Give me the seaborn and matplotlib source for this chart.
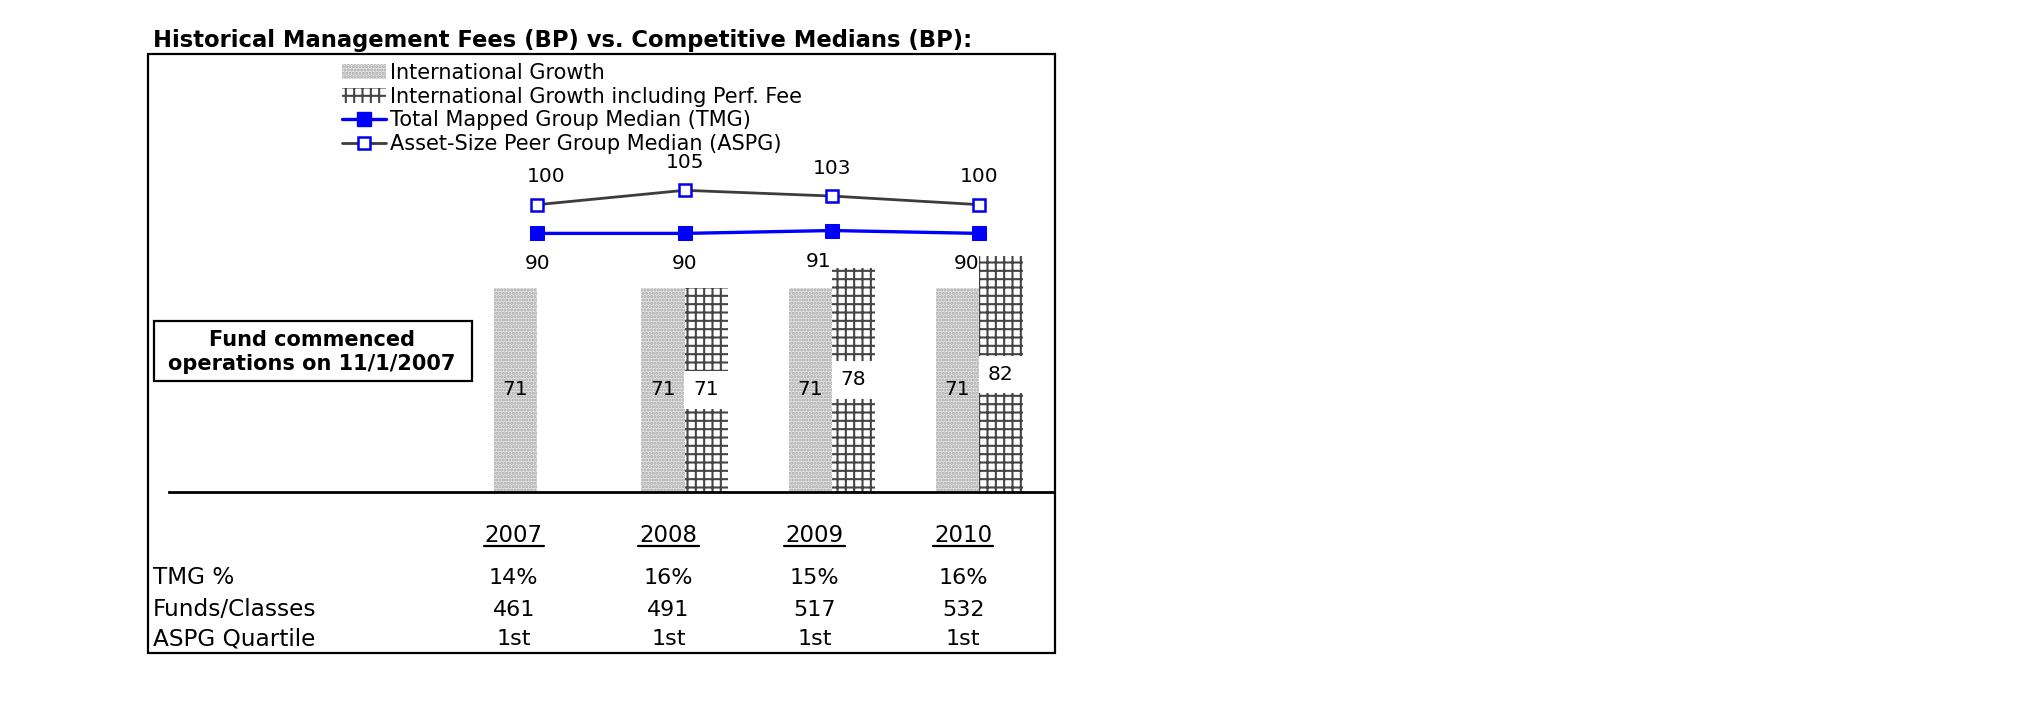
import numpy as np
import pandas as pd
import matplotlib
matplotlib.use('Agg')
import matplotlib.pyplot as plt
from matplotlib.patches import Rectangle, Patch
from matplotlib.lines import Line2D
import seaborn as sns

# Chart data
years = ['2007', '2008', '2009', '2010']
intl_growth = [71, 71, 71, 71]
intl_growth_perf = [np.nan, 71, 78, 82]
tmg_median = [90, 90, 91, 90]
aspg_median = [100, 105, 103, 100]

# Table under the chart
tmg_pct = ['14%', '16%', '15%', '16%']
funds_classes = ['461', '491', '517', '532']
aspg_quartile = ['1st', '1st', '1st', '1st']

series_names = ['International Growth', 'International Growth including Perf. Fee']

df = pd.DataFrame({
    'Year': years * 2,
    'Series': [series_names[0]] * 4 + [series_names[1]] * 4,
    'BP': intl_growth + intl_growth_perf,
}).dropna()

sns.set_style('white')
plt.rcParams['font.family'] = ['DejaVu Sans']
plt.rcParams['text.color'] = 'black'
plt.rcParams['hatch.linewidth'] = 1.5

W, H = 2025, 717
fig = plt.figure(figsize=(W / 100, H / 100), dpi=100)


def fx(px):
    return px / W


def fy(py):
    return 1 - py / H


# main axes: baseline at y=492px, 150 BP tall
ax = fig.add_axes([fx(169), fy(492), (1053 - 169) / W, 431 / H])

sns.barplot(data=df, x='Year', y='BP', hue='Series', order=years,
            hue_order=series_names, width=0.588, errorbar=None,
            legend=False, ax=ax)

ig_face, ig_hatch = '#e6e6e6', '#a6a6a6'
pf_face, pf_hatch = 'white', '#444444'

for bar in ax.containers[0]:
    bar.set_facecolor(ig_face)
    bar.set_edgecolor(ig_hatch)
    bar.set_hatch('.....')
    bar.set_linewidth(0)
for bar in ax.containers[1]:
    bar.set_facecolor(pf_face)
    bar.set_edgecolor(pf_hatch)
    bar.set_hatch('++')
    bar.set_linewidth(0)

lab_fs = 14.5
ax.bar_label(ax.containers[0], label_type='center', fontsize=lab_fs)
ax.bar_label(ax.containers[1], label_type='center', fontsize=lab_fs,
             bbox=dict(boxstyle='square,pad=0.45', facecolor='white', edgecolor='white', lw=0))

pos = np.arange(len(years))
sns.lineplot(x=pos, y=aspg_median, color='#3c3c3c', linewidth=2.0, marker='s',
             markersize=9, markerfacecolor='white', markeredgecolor='#0000ee',
             markeredgewidth=1.8, sort=False, ax=ax, zorder=4)
sns.lineplot(x=pos, y=tmg_median, color='#0000ff', linewidth=2.4, marker='s',
             markersize=9.5, markerfacecolor='#0000ff', markeredgecolor='#0000ff',
             sort=False, ax=ax, zorder=4)

aspg_nudge = [6, 0, 0, 0]
tmg_nudge = [0, 0, -10, -9.5]
for i, v in enumerate(aspg_median):
    ax.annotate(str(v), (pos[i], v), xytext=(aspg_nudge[i], 20), textcoords='offset points',
                ha='center', va='center', fontsize=lab_fs)
for i, v in enumerate(tmg_median):
    ax.annotate(str(v), (pos[i], v), xytext=(tmg_nudge[i], -22), textcoords='offset points',
                ha='center', va='center', fontsize=lab_fs)

ax.set_xlim(-2.5, 3.5)
ax.set_ylim(0, 150)
ax.set_xticks([])
ax.set_yticks([])
ax.set_xlabel('')
ax.set_ylabel('')
sns.despine(ax=ax, left=True)
ax.spines['bottom'].set_linewidth(2)
ax.spines['bottom'].set_color('black')
ax.patch.set_alpha(0)

# legend
handles = [
    Patch(facecolor=ig_face, edgecolor=ig_hatch, hatch='.....', linewidth=0),
    Patch(facecolor=pf_face, edgecolor=pf_hatch, hatch='++', linewidth=0),
    Line2D([], [], color='#0000ff', lw=2.4, marker='s', markersize=9.5),
    Line2D([], [], color='#3c3c3c', lw=2.0, marker='s', markersize=9,
           markerfacecolor='white', markeredgecolor='#0000ee', markeredgewidth=1.8),
]
labels = series_names + ['Total Mapped Group Median (TMG)', 'Asset-Size Peer Group Median (ASPG)']
fig.legend(handles, labels, loc='upper left', bbox_to_anchor=(fx(342), fy(63)),
           frameon=False, fontsize=15, borderpad=0, borderaxespad=0,
           labelspacing=0.18, handlelength=2.1, handleheight=0.75, handletextpad=0.2)

# title and frames
fig.text(fx(153), fy(40), 'Historical Management Fees (BP) vs. Competitive Medians (BP):',
         fontsize=16.3, fontweight='bold', ha='left', va='center')
fig.patches.append(Rectangle((fx(148), fy(653)), (1055 - 148) / W, (653 - 54) / H,
                             transform=fig.transFigure, fill=False, lw=1.6, ec='black'))
fig.patches.append(Rectangle((fx(154), fy(381)), (472 - 154) / W, (381 - 321) / H,
                             transform=fig.transFigure, fill=False, lw=1.6, ec='black'))
fig.text(fx(312), fy(352), 'Fund commenced\noperations on 11/1/2007', fontsize=15,
         fontweight='bold', ha='center', va='center', linespacing=1.3)

# table below the chart
tr = matplotlib.transforms.blended_transform_factory(ax.transData, fig.transFigure)
col_shift = [-0.16, -0.11, -0.12, -0.11]
for i, yr in enumerate(years):
    cx = pos[i] + col_shift[i]
    ax.text(cx, fy(535), yr, transform=tr, ha='center', va='center',
            fontsize=16.5, clip_on=False)
    ax.plot([cx - 0.205, cx + 0.205], [fy(546), fy(546)],
            transform=tr, color='black', lw=1.6, clip_on=False)

rows = [('TMG %', tmg_pct, 578), ('Funds/Classes', funds_classes, 610),
        ('ASPG Quartile', aspg_quartile, 639)]
for name, vals, ypx in rows:
    fig.text(fx(153), fy(ypx), name, fontsize=16.7, ha='left', va='center')
    for i, v in enumerate(vals):
        ax.text(pos[i] + col_shift[i], fy(ypx), v, transform=tr, ha='center', va='center',
                fontsize=16, clip_on=False)

plt.savefig('out.png', dpi=100)
